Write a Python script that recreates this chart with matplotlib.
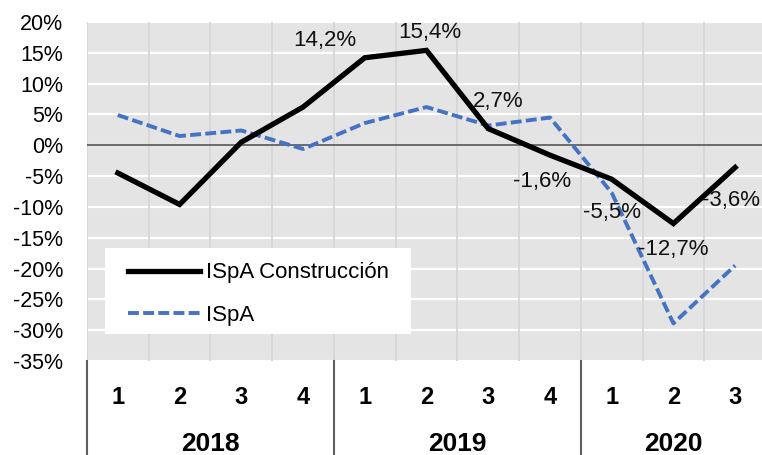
import matplotlib.pyplot as plt
from matplotlib.lines import Line2D
from matplotlib.patches import Rectangle
import matplotlib.transforms as mtransforms

plt.rcParams['font.family'] = ['Liberation Sans', 'DejaVu Sans']

quarters = ['1', '2', '3', '4', '1', '2', '3', '4', '1', '2', '3']
years = ['2018', '2019', '2020']
year_sizes = [4, 4, 3]
construccion = [-4.5, -9.6, 0.5, 6.2, 14.2, 15.4, 2.7, -1.6, -5.5, -12.7, -3.6]
ispa = [4.9, 1.5, 2.4, -0.6, 3.6, 6.2, 3.2, 4.5, -7.7, -28.9, -19.5]
labels = ['', '', '', '', '14,2%', '15,4%', '2,7%', '-1,6%', '-5,5%', '-12,7%', '-3,6%']
# label offsets in pixels (dx, dy) from the point
offsets = [None, None, None, None, (-40, 17), (3, 18), (10, 27), (-8, -26), (0, -33), (0, -26), (-4, -33)]

fig = plt.figure(figsize=(7.62, 4.55), dpi=100)
ax = fig.add_axes([87 / 762, 94 / 455, 679 / 762, 339 / 455])
ax.set_facecolor('#e4e4e4')

x = list(range(len(quarters)))
ax.set_xlim(-0.5, len(quarters) - 0.5)
ax.set_ylim(-35, 20)

for v in range(-35, 21, 5):
    ax.axhline(v, color='white', lw=1.6, zorder=1)
for k in range(len(quarters)):
    ax.axvline(k - 0.5, color='#d6d6d6', lw=1.3, zorder=1)
ax.axhline(0, color='#5f5f5f', lw=1.3, zorder=2)

ax.plot(x, construccion, color='black', lw=3.8, solid_joinstyle='miter', zorder=4, label='ISpA Construcción')
ax.plot(x, ispa, color='#4472c4', lw=2.8, dashes=(2.8, 1.1), zorder=3, label='ISpA')

for i, lab in enumerate(labels):
    if lab:
        dx, dy = offsets[i]
        ax.annotate(lab, (x[i], construccion[i]), xytext=(dx * 0.72, dy * 0.72),
                    textcoords='offset points', ha='center', va='center', fontsize=16, color='#111111', zorder=5)

ax.set_yticks(range(-35, 21, 5))
ax.set_yticklabels([f'{v}%' for v in range(-35, 21, 5)], fontsize=15.5)
ax.tick_params(axis='y', length=0, pad=17)
ax.set_xticks([])
for s in ax.spines.values():
    s.set_visible(False)

trans = mtransforms.blended_transform_factory(ax.transData, ax.transAxes)
for i, q in enumerate(quarters):
    ax.text(x[i], -0.108, q, transform=trans, ha='center', va='center', fontsize=17, fontweight='bold')
start = 0
for yr, n in zip(years, year_sizes):
    ax.text(start + (n - 1) / 2, -0.245, yr, transform=trans, ha='center', va='center', fontsize=19, fontweight='bold')
    ax.add_line(Line2D([start - 0.5, start - 0.5], [0, -0.3], transform=trans, color='#5f5f5f', lw=1.5, clip_on=False))
    start += n
ax.add_line(Line2D([start - 0.5, start - 0.5], [0, -0.3], transform=trans, color='#5f5f5f', lw=1.5, clip_on=False))

# legend box drawn as a white panel, legend entries on top of it
ax.add_patch(Rectangle((18 / 679, 27 / 339), 306 / 679, 86 / 339, transform=ax.transAxes,
                       facecolor='white', edgecolor='none', zorder=6))
leg = ax.legend(loc='center left', bbox_to_anchor=(41 / 679, 67 / 339), fontsize=16, frameon=False,
                borderaxespad=0, borderpad=0, handlelength=3.24, handletextpad=0.27,
                labelspacing=0.95)
leg.set_zorder(7)

fig.savefig('out.png', dpi=100)
